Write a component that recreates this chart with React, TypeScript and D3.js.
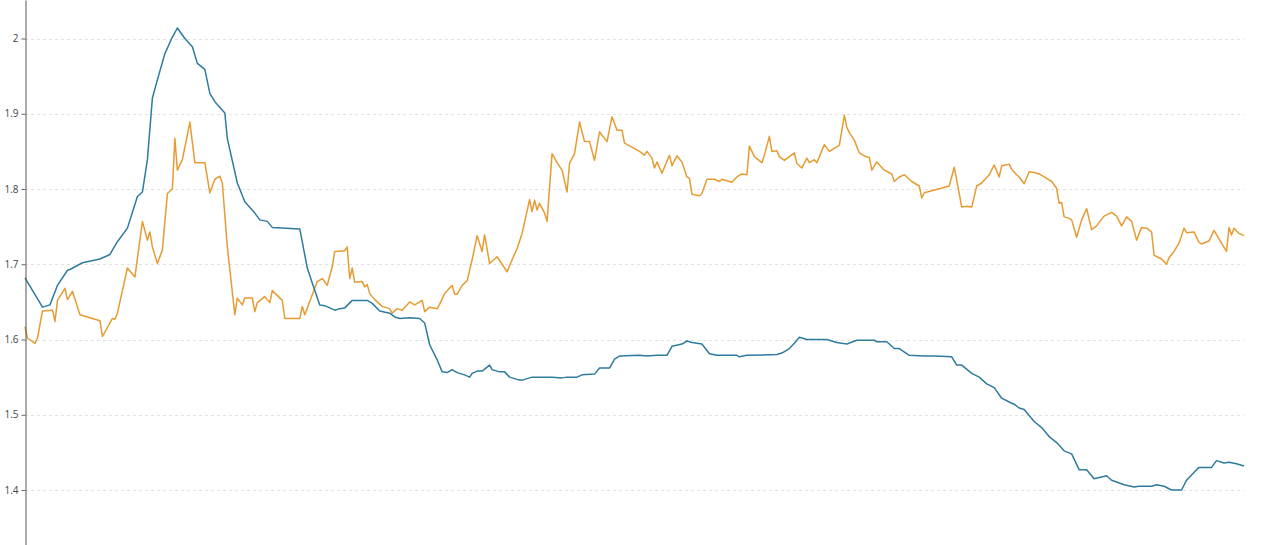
import React, { useEffect, useRef } from "react";
import * as d3 from "d3";

// y-axis tick values
const yTicks = [1.4, 1.5, 1.6, 1.7, 1.8, 1.9, 2.0];

// x: trading-day index, y: value
const blueSeries: [number, number][] = [
  [0, 1.682], [7, 1.643], [10, 1.646], [13, 1.672], [17, 1.692], [18, 1.693], [23, 1.702],
  [30, 1.707], [34, 1.713], [37, 1.73], [41, 1.748], [45, 1.79], [47, 1.796], [49, 1.839],
  [51, 1.921], [53, 1.945], [56, 1.98], [59, 2.002], [61, 2.014], [64, 2.0], [67, 1.989],
  [69, 1.967], [72, 1.959], [74, 1.927], [76, 1.916], [80, 1.901], [81, 1.867], [85, 1.808],
  [88, 1.783], [92, 1.768], [94, 1.759], [97, 1.757], [99, 1.749], [110, 1.747], [113, 1.695],
  [115, 1.675], [118, 1.646], [120, 1.645], [124, 1.639], [126, 1.641], [128, 1.642],
  [131, 1.652], [137, 1.652], [139, 1.648], [142, 1.638], [146, 1.635], [148, 1.63],
  [150, 1.628], [154, 1.629], [158, 1.628], [160, 1.622], [162, 1.593], [165, 1.573],
  [167, 1.557], [169, 1.556], [171, 1.56], [173, 1.556], [176, 1.553], [178, 1.55],
  [179, 1.555], [181, 1.558], [183, 1.558], [186, 1.566], [187, 1.56], [190, 1.557],
  [192, 1.557], [194, 1.55], [197, 1.547], [199, 1.546], [203, 1.55], [211, 1.55],
  [215, 1.549], [217, 1.55], [221, 1.55], [223, 1.553], [228, 1.554], [230, 1.562],
  [234, 1.562], [236, 1.574], [238, 1.578], [246, 1.579], [249, 1.578], [253, 1.579],
  [257, 1.579], [259, 1.591], [263, 1.594], [265, 1.598], [267, 1.596], [271, 1.594],
  [274, 1.581], [277, 1.579], [285, 1.579], [286, 1.577], [289, 1.579], [301, 1.58],
  [303, 1.582], [306, 1.588], [308, 1.595], [310, 1.603], [313, 1.6], [321, 1.6],
  [325, 1.596], [329, 1.594], [333, 1.599], [340, 1.599], [341, 1.597], [345, 1.597],
  [348, 1.588], [350, 1.588], [354, 1.579], [360, 1.578], [364, 1.578], [371, 1.577],
  [373, 1.566], [375, 1.566], [379, 1.555], [382, 1.55], [385, 1.541], [388, 1.536],
  [391, 1.522], [394, 1.517], [396, 1.514], [398, 1.509], [400, 1.507], [404, 1.491],
  [407, 1.483], [410, 1.471], [413, 1.463], [416, 1.452], [419, 1.448], [422, 1.427],
  [425, 1.427], [428, 1.415], [433, 1.419], [435, 1.413], [440, 1.407], [444, 1.404],
  [446, 1.405], [451, 1.405], [453, 1.407], [456, 1.405], [459, 1.4], [463, 1.4],
  [465, 1.413], [469, 1.427], [470, 1.43], [475, 1.43], [477, 1.439], [480, 1.436],
  [482, 1.437], [485, 1.435], [488, 1.432],
];

const orangeSeries: [number, number][] = [
  [0, 1.617], [1, 1.602], [4, 1.595], [5, 1.602], [7, 1.638], [11, 1.639], [12, 1.624],
  [13, 1.652], [16, 1.668], [17, 1.653], [19, 1.664], [22, 1.633], [30, 1.625], [31, 1.604],
  [35, 1.628], [36, 1.627], [37, 1.635], [41, 1.695], [44, 1.683], [47, 1.757], [49, 1.732],
  [50, 1.743], [51, 1.723], [53, 1.701], [55, 1.719], [57, 1.794], [59, 1.8], [60, 1.867],
  [61, 1.825], [63, 1.839], [66, 1.889], [68, 1.835], [72, 1.835], [74, 1.795], [76, 1.813],
  [78, 1.817], [79, 1.808], [81, 1.723], [84, 1.633], [85, 1.655], [87, 1.646], [88, 1.655],
  [91, 1.655], [92, 1.637], [93, 1.649], [96, 1.657], [98, 1.649], [99, 1.665], [103, 1.652],
  [104, 1.628], [110, 1.628], [111, 1.644], [112, 1.633], [117, 1.677], [119, 1.681],
  [121, 1.672], [123, 1.697], [124, 1.717], [128, 1.718], [129, 1.723], [130, 1.681],
  [131, 1.695], [132, 1.676], [135, 1.677], [136, 1.67], [137, 1.673], [138, 1.661],
  [140, 1.653], [142, 1.647], [143, 1.644], [146, 1.641], [147, 1.635], [149, 1.641],
  [151, 1.639], [154, 1.65], [156, 1.646], [159, 1.652], [160, 1.637], [162, 1.643],
  [165, 1.641], [166, 1.647], [168, 1.661], [171, 1.672], [172, 1.66], [173, 1.66],
  [175, 1.672], [177, 1.678], [179, 1.706], [181, 1.738], [183, 1.717], [184, 1.739],
  [186, 1.701], [189, 1.71], [193, 1.69], [195, 1.706], [197, 1.721], [199, 1.741],
  [202, 1.786], [203, 1.77], [204, 1.785], [205, 1.772], [206, 1.781], [208, 1.768],
  [209, 1.757], [211, 1.847], [213, 1.835], [215, 1.825], [217, 1.796], [218, 1.834],
  [220, 1.847], [222, 1.889], [224, 1.863], [226, 1.863], [228, 1.838], [230, 1.876],
  [233, 1.863], [235, 1.896], [237, 1.878], [239, 1.878], [240, 1.861], [246, 1.85],
  [248, 1.845], [249, 1.85], [251, 1.841], [252, 1.828], [253, 1.836], [255, 1.821],
  [258, 1.845], [259, 1.831], [261, 1.844], [263, 1.836], [265, 1.816], [266, 1.814],
  [267, 1.793], [270, 1.791], [271, 1.794], [273, 1.813], [276, 1.813], [278, 1.81],
  [279, 1.813], [281, 1.811], [283, 1.809], [285, 1.816], [287, 1.82], [289, 1.819],
  [290, 1.857], [292, 1.843], [295, 1.835], [296, 1.845], [298, 1.87], [299, 1.85],
  [301, 1.851], [302, 1.843], [304, 1.838], [306, 1.843], [308, 1.848], [309, 1.834],
  [311, 1.828], [313, 1.841], [314, 1.835], [316, 1.839], [317, 1.835], [320, 1.859],
  [322, 1.85], [326, 1.858], [328, 1.898], [329, 1.882], [330, 1.875], [332, 1.865],
  [334, 1.848], [336, 1.844], [338, 1.842], [339, 1.825], [341, 1.836], [344, 1.825],
  [347, 1.82], [348, 1.81], [350, 1.816], [352, 1.819], [355, 1.81], [358, 1.804],
  [359, 1.788], [360, 1.795], [370, 1.804], [372, 1.829], [374, 1.794], [375, 1.776],
  [377, 1.777], [379, 1.776], [381, 1.804], [383, 1.808], [386, 1.819], [388, 1.832],
  [390, 1.816], [391, 1.831], [394, 1.833], [395, 1.826], [397, 1.819], [398, 1.816],
  [400, 1.807], [402, 1.823], [404, 1.822], [406, 1.82], [409, 1.814], [411, 1.81],
  [413, 1.801], [414, 1.781], [415, 1.782], [416, 1.763], [418, 1.761], [419, 1.759],
  [421, 1.736], [423, 1.759], [425, 1.774], [427, 1.746], [429, 1.751], [431, 1.76],
  [432, 1.764], [435, 1.769], [437, 1.764], [439, 1.751], [441, 1.763], [443, 1.757],
  [445, 1.732], [447, 1.749], [449, 1.748], [451, 1.743], [452, 1.712], [455, 1.707],
  [457, 1.7], [458, 1.709], [460, 1.717], [462, 1.728], [464, 1.748], [465, 1.742],
  [468, 1.743], [470, 1.729], [471, 1.727], [474, 1.731], [476, 1.745], [479, 1.728],
  [481, 1.717], [482, 1.749], [483, 1.739], [484, 1.748], [486, 1.741], [488, 1.738],
];

const xDomain: [number, number] = [0, 488];

const W = 1280;
const H = 545;
const axisX = 25;
const plotRight = 1244;
const yTop = 2.0512; // value at top edge
const yBottom = 1.3269; // value at bottom edge

export default function App() {
  const axisRef = useRef<SVGGElement>(null);

  const x = d3.scaleLinear().domain(xDomain).range([axisX, plotRight]);
  const y = d3.scaleLinear().domain([yBottom, yTop]).range([H, 0]);

  const line = d3
    .line<[number, number]>()
    .x((d) => x(d[0]))
    .y((d) => y(d[1]));

  useEffect(() => {
    document.body.style.margin = "0";
    document.body.style.overflow = "hidden";
    if (!axisRef.current) return;
    const g = d3.select(axisRef.current);
    g.selectAll("*").remove();
    const axis = d3
      .axisLeft(y)
      .tickValues(yTicks)
      .tickSize(4)
      .tickSizeOuter(0)
      .tickPadding(3)
      .tickFormat((d) => d3.format("")(+d) as string);
    g.call(axis as any);
    g.select(".domain").attr("stroke", "#555").attr("stroke-width", 1);
    g.selectAll(".tick line").attr("stroke", "#666");
    g.selectAll(".tick text")
      .attr("fill", "#444")
      .style("font-family", "'Open Sans', 'DejaVu Sans', sans-serif")
      .style("font-size", "10px");
  }, []);

  return (
    <svg
      width={W}
      height={H}
      style={{ position: "absolute", left: 0, top: 0, background: "#fff" }}
    >
      <g>
        {yTicks.map((t) => (
          <line
            key={t}
            x1={axisX}
            x2={plotRight}
            y1={Math.round(y(t)) + 0.5}
            y2={Math.round(y(t)) + 0.5}
            stroke="#e2e2e2"
            strokeDasharray="3,3"
            strokeWidth={1}
          />
        ))}
      </g>
      <path
        d={line(orangeSeries) || ""}
        fill="none"
        stroke="#e69b33"
        strokeWidth={1.5}
        strokeLinejoin="round"
      />
      <path
        d={line(blueSeries) || ""}
        fill="none"
        stroke="#2f7b9e"
        strokeWidth={1.5}
        strokeLinejoin="round"
      />
      <g ref={axisRef} transform={`translate(${axisX + 0.5},0)`} />
    </svg>
  );
}
